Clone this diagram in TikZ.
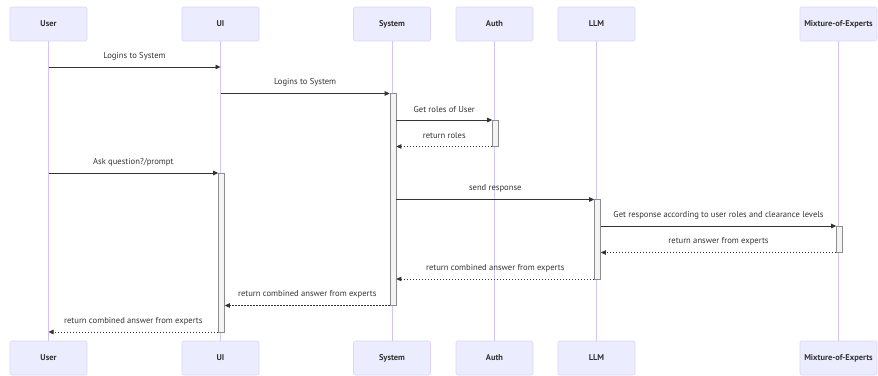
\documentclass[tikz,border=0pt]{standalone}
\usepackage{fontspec}
\setmainfont{PT Sans}
\usetikzlibrary{arrows.meta,fit}

\definecolor{actorfill}{HTML}{ECECFF}
\definecolor{actorline}{HTML}{DDD4FA}
\definecolor{lifeline}{HTML}{D3C6F6}
\definecolor{msgline}{HTML}{333333}
\definecolor{actfill}{HTML}{F4F4F4}
\definecolor{actline}{HTML}{8C8C8C}

\newcommand{\yunit}{26.5}
\newcommand{\yfirst}{67}

\tikzset{
  actor/.style={draw=actorline, fill=actorfill, rounded corners=2pt, line width=0.6pt,
    minimum width=77pt, minimum height=34pt, text=msgline,
    font=\fontsize{8.4}{10}\selectfont\bfseries},
  life/.style={draw=lifeline, line width=0.7pt},
  act/.style={draw=actline, fill=actfill, line width=0.6pt, inner sep=0pt, minimum width=6pt,
    xshift=1pt},
  msg/.style={draw=msgline, line width=0.7pt, -{Triangle[length=5pt,width=4.5pt]}},
  ret/.style={msg, dash pattern=on 1.5pt off 1.5pt},
  lbl/.style={midway, yshift=11pt, inner sep=0pt, text=msgline}
}

\begin{document}
\begin{tikzpicture}[x=1pt, y=-1pt, font=\fontsize{8.6}{10}\selectfont]
    \useasboundingbox (0,0) rectangle (878,375);

    % Rows of messages.
    \foreach \k in {1,...,11}
        \coordinate (r\k) at (0,{\yfirst+\yunit*(\k-1)});

    % Participants, top and bottom, with their lifelines.
    \foreach \name/\x/\txt in {user/48.5/User, ui/220.5/UI, sys/392/System,
                               auth/494.5/Auth, llm/596.5/LLM, moe/838.5/Mixture-of-Experts} {
        \node[actor] (\name) at (\x,24) {\txt};
        \node[actor] (\name-end) at (\x,358) {\txt};
        \draw[life] (\name) -- (\name-end);
    }

    % Activations.
    \node[act, fit={(sys |- r2) (sys |- r10)}] (sysact) {};
    \node[act, fit={(auth |- r3) (auth |- r4)}] (authact) {};
    \node[act, fit={(ui |- r5) (ui |- r11)}] (uiact) {};
    \node[act, fit={(llm |- r6) (llm |- r9)}] (llmact) {};
    \node[act, fit={(moe |- r7) (moe |- r8)}] (moeact) {};

    % Messages.
    \draw[msg] (user |- r1) -- node[lbl] {Logins to System} (ui |- r1);
    \draw[msg] (ui |- r2) -- node[lbl] {Logins to System} (sysact.west |- r2);
    \draw[msg] (sysact.east |- r3) -- node[lbl] {Get roles of User} (authact.west |- r3);
    \draw[ret] (authact.west |- r4) -- node[lbl] {return roles} (sysact.east |- r4);
    \draw[msg] (user |- r5) -- node[lbl] {Ask question?/prompt} (uiact.west |- r5);
    \draw[msg] (sysact.east |- r6) -- node[lbl] {send response} (llmact.west |- r6);
    \draw[msg] (llmact.east |- r7) -- node[lbl] {Get response according to user roles and clearance levels} (moeact.west |- r7);
    \draw[ret] (moeact.west |- r8) -- node[lbl] {return answer from experts} (llmact.east |- r8);
    \draw[ret] (llmact.west |- r9) -- node[lbl] {return combined answer from experts} (sysact.east |- r9);
    \draw[ret] (sysact.west |- r10) -- node[lbl] {return combined answer from experts} (uiact.east |- r10);
    \draw[ret] (uiact.west |- r11) -- node[lbl] {return combined answer from experts} (user |- r11);

\end{tikzpicture}
\end{document}
